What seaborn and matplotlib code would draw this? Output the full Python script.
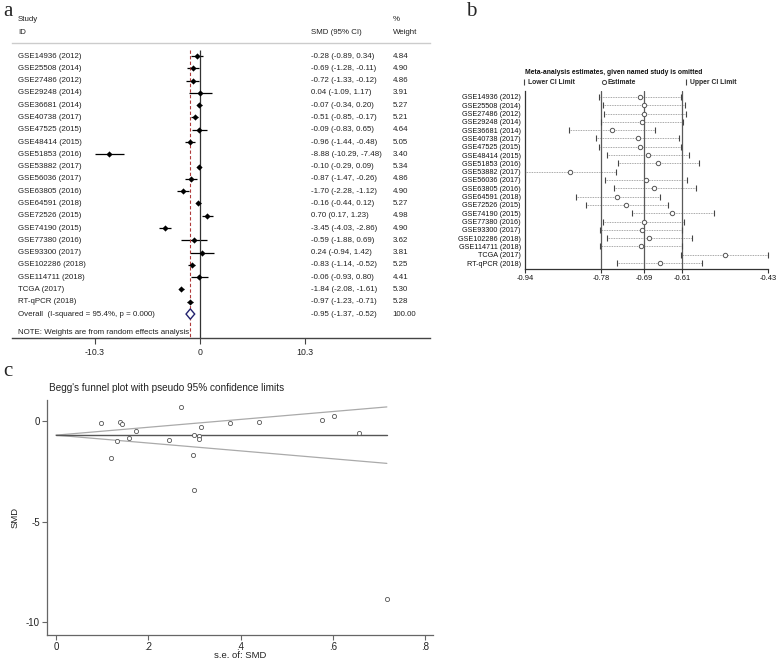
import numpy as np
import matplotlib
matplotlib.use("Agg")
import matplotlib.pyplot as plt
import matplotlib.transforms as mtransforms
from matplotlib.lines import Line2D
import seaborn as sns

studies = ["GSE14936 (2012)", "GSE25508 (2014)", "GSE27486 (2012)", "GSE29248 (2014)",
           "GSE36681 (2014)", "GSE40738 (2017)", "GSE47525 (2015)", "GSE48414 (2015)",
           "GSE51853 (2016)", "GSE53882 (2017)", "GSE56036 (2017)", "GSE63805 (2016)",
           "GSE64591 (2018)", "GSE72526 (2015)", "GSE74190 (2015)", "GSE77380 (2016)",
           "GSE93300 (2017)", "GSE102286 (2018)", "GSE114711 (2018)", "TCGA (2017)",
           "RT-qPCR (2018)"]

# panel a: forest plot
smd = [-0.28, -0.69, -0.72, 0.04, -0.07, -0.51, -0.09, -0.96, -8.88, -0.10, -0.87,
       -1.70, -0.16, 0.70, -3.45, -0.59, 0.24, -0.83, -0.06, -1.84, -0.97]
ci_lo = [-0.89, -1.28, -1.33, -1.09, -0.34, -0.85, -0.83, -1.44, -10.29, -0.29, -1.47,
         -2.28, -0.44, 0.17, -4.03, -1.88, -0.94, -1.14, -0.93, -2.08, -1.23]
ci_hi = [0.34, -0.11, -0.12, 1.17, 0.20, -0.17, 0.65, -0.48, -7.48, 0.09, -0.26,
         -1.12, 0.12, 1.23, -2.86, 0.69, 1.42, -0.52, 0.80, -1.61, -0.71]
weights = [4.84, 4.90, 4.86, 3.91, 5.27, 5.21, 4.64, 5.05, 3.40, 5.34, 4.86,
           4.90, 5.27, 4.98, 4.90, 3.62, 3.81, 5.25, 4.41, 5.30, 5.28]
overall = [-1.37, -0.95, -0.52]
overall_label = "Overall  (I-squared = 95.4%, p = 0.000)"
forest_ticks = [-10.3, 0, 10.3]

# panel b: leave-one-out sensitivity
loo_lo = [-0.784, -0.777, -0.775, -0.780, -0.847, -0.791, -0.784, -0.768, -0.745, -0.939,
          -0.773, -0.754, -0.834, -0.813, -0.716, -0.777, -0.782, -0.767, -0.782, -0.612,
          -0.747]
loo_est = [-0.698, -0.690, -0.690, -0.694, -0.758, -0.703, -0.698, -0.682, -0.660, -0.845,
           -0.687, -0.669, -0.746, -0.728, -0.631, -0.691, -0.695, -0.679, -0.696, -0.520,
           -0.657]
loo_hi = [-0.613, -0.604, -0.603, -0.609, -0.668, -0.616, -0.613, -0.595, -0.574, -0.749,
          -0.601, -0.582, -0.656, -0.640, -0.544, -0.606, -0.610, -0.590, -0.611, -0.429,
          -0.568]
loo_overall = [-0.78, -0.69, -0.61]
loo_ticks = [-0.94, -0.78, -0.69, -0.61, -0.43]

# panel c: Begg's funnel
se = [0.314, 0.298, 0.309, 0.577, 0.138, 0.173, 0.378, 0.245, 0.717, 0.097, 0.309,
      0.296, 0.143, 0.270, 0.298, 0.656, 0.602, 0.158, 0.441, 0.120, 0.133]
funnel_center = -0.70

sns.set_theme(style="white")
plt.rcParams["font.family"] = ["Liberation Sans", "DejaVu Sans"]

W, H = 778, 660
fig = plt.figure(figsize=(W / 100, H / 100), dpi=100)


def rect(left, top, right, bottom):
    return [left / W, 1 - bottom / H, (right - left) / W, (bottom - top) / H]


# ---------- a ----------
axa = fig.add_axes(rect(12, 43, 430, 338))
n = len(studies)
rows = np.arange(n)
ov_row = n
ylim_a = (22.95, -1.06)
axa.hlines(rows, ci_lo, ci_hi, color="black", lw=0.9)
sns.scatterplot(x=smd, y=rows, ax=axa, marker="D", s=10, color="black", linewidth=0, zorder=3)
axa.vlines(0, -0.5, ylim_a[0], color="#333333", lw=0.9)
axa.vlines(overall[1], -0.5, ylim_a[0], color="#b03a3a", lw=0.8, linestyles=(0, (3, 2)))
axa.fill([overall[0], overall[1], overall[2], overall[1]],
         [ov_row, ov_row - 0.42, ov_row, ov_row + 0.42],
         facecolor="white", edgecolor="#22226e", lw=1.0, zorder=4)
axa.set_xlim(-18.44, 22.56)
axa.set_ylim(*ylim_a)
axa.set_yticks([])
axa.set_xticks(forest_ticks)
axa.set_xticklabels(["-10.3", "0", "10.3"])
axa.tick_params(axis="x", bottom=True, direction="out", length=4, width=0.8,
                color="#444444", labelsize=6.3, pad=3, labelcolor="#222222")
for side in ["left", "right"]:
    axa.spines[side].set_visible(False)
axa.spines["top"].set_color("#cccccc")
axa.spines["top"].set_linewidth(1.0)
axa.spines["bottom"].set_color("#444444")
axa.spines["bottom"].set_linewidth(1.0)

tr = mtransforms.blended_transform_factory(axa.transAxes, axa.transData)
fs = 5.7
txt = dict(transform=tr, va="center", fontsize=fs, color="#222222", clip_on=False)
axa.text(0.0144, -3.01, "Study", **txt)
axa.text(0.0144, -1.95, "ID", **txt)
axa.text(0.715, -1.95, "SMD (95% CI)", **txt)
axa.text(0.911, -3.01, "%", **txt)
axa.text(0.911, -1.95, "Weight", **txt)
for i in range(n):
    axa.text(0.0144, i, studies[i], **txt)
    axa.text(0.715, i, f"{smd[i]:.2f} ({ci_lo[i]:.2f}, {ci_hi[i]:.2f})", **txt)
    axa.text(0.911, i, f"{weights[i]:.2f}", **txt)
axa.text(0.0144, ov_row, overall_label, **txt)
axa.text(0.715, ov_row, f"{overall[1]:.2f} ({overall[0]:.2f}, {overall[2]:.2f})", **txt)
axa.text(0.911, ov_row, "100.00", **txt)
axa.text(0.0144, 22.54, "NOTE: Weights are from random effects analysis", **txt)

# ---------- b ----------
axb = fig.add_axes(rect(525, 91, 768, 269))
axb.hlines(rows, loo_lo, loo_hi, colors="#8a8a8a", linestyles=(0, (1, 1)), lw=0.6)
for v in loo_overall:
    axb.axvline(v, color="#5a5a5a", lw=0.9)
sns.scatterplot(x=loo_lo + loo_hi, y=list(rows) * 2, ax=axb, marker="|", s=16,
                color="#444444", linewidth=0.8, zorder=3, clip_on=False)
sns.scatterplot(x=loo_est, y=rows, ax=axb, marker="o", s=10, facecolor="white",
                edgecolor="#555555", linewidth=0.7, zorder=4, clip_on=False)
axb.set_xlim(-0.94, -0.43)
axb.set_ylim(20.72, -0.72)
axb.set_yticks(rows)
axb.set_yticklabels(studies)
axb.set_xticks(loo_ticks)
axb.set_xticklabels([f"{t:.2f}" for t in loo_ticks])
axb.tick_params(axis="y", left=False, length=0, pad=3, labelsize=5.2, labelcolor="#111111")
axb.tick_params(axis="x", bottom=True, direction="out", length=3, width=0.8,
                color="#333333", labelsize=5.4, pad=1.5, labelcolor="#111111")
for side in ["top", "right"]:
    axb.spines[side].set_visible(False)
for side in ["left", "bottom"]:
    axb.spines[side].set_color("#333333")
    axb.spines[side].set_linewidth(0.9)
fig.text(525 / W, 1 - 73 / H, "Meta-analysis estimates, given named study is omitted",
         fontsize=4.9, fontweight="bold", va="center", color="#111111")
bar = dict(marker="|", ls="none", color="#444444", ms=4, mew=0.8)
legend_items = [(523, Line2D([], [], **bar), "Lower CI Limit"),
                (603, Line2D([], [], marker="o", ls="none", mfc="white", mec="#444444",
                             ms=3.0, mew=0.7), "Estimate"),
                (685, Line2D([], [], **bar), "Upper CI Limit")]
for x0, handle, label in legend_items:
    fig.legend([handle], [label], loc="center left", bbox_to_anchor=(x0 / W, 1 - 83 / H),
               frameon=False, prop={"size": 4.9, "weight": "bold"}, handlelength=0.4,
               handletextpad=0.3, borderaxespad=0, borderpad=0)

# ---------- c ----------
axc = fig.add_axes(rect(47, 400, 433, 635))
se_line = np.array([0, max(se)])
axc.plot(se_line, funnel_center + 1.96 * se_line, color="#aaaaaa", lw=0.9)
axc.plot(se_line, funnel_center - 1.96 * se_line, color="#aaaaaa", lw=0.9)
axc.plot(se_line, [funnel_center, funnel_center], color="#555555", lw=1.0)
sns.scatterplot(x=se, y=smd, ax=axc, marker="o", s=9, facecolor="white",
                edgecolor="#555555", linewidth=0.6, zorder=3)
axc.set_xlim(-0.0195, 0.817)
axc.set_ylim(-10.65, 1.05)
axc.set_xticks([0, 0.2, 0.4, 0.6, 0.8])
axc.set_xticklabels(["0", ".2", ".4", ".6", ".8"])
axc.set_yticks([0, -5, -10])
axc.set_yticklabels(["0", "-5", "-10"])
axc.tick_params(bottom=True, left=True, direction="out", length=3.5, width=0.8,
                color="#666666", labelsize=7, pad=1.5, labelcolor="#222222")
for side in ["top", "right"]:
    axc.spines[side].set_visible(False)
for side in ["left", "bottom"]:
    axc.spines[side].set_color("#666666")
    axc.spines[side].set_linewidth(0.9)
axc.set_xlabel("s.e. of: SMD", fontsize=6.8, labelpad=-1, color="#222222")
axc.set_ylabel("SMD", fontsize=6.8, labelpad=5, color="#222222")
fig.text(49 / W, 1 - 388 / H, "Begg's funnel plot with pseudo 95% confidence limits",
         fontsize=7.2, va="center", color="#222222")

# panel letters
serif = dict(family=["Liberation Serif", "DejaVu Serif"], fontsize=15, va="center")
fig.text(3 / W, 1 - 12 / H, "a", **serif)
fig.text(466 / W, 1 - 11 / H, "b", **serif)
fig.text(3 / W, 1 - 372 / H, "c", **serif)

fig.savefig("out.png", dpi=100, facecolor="white")
